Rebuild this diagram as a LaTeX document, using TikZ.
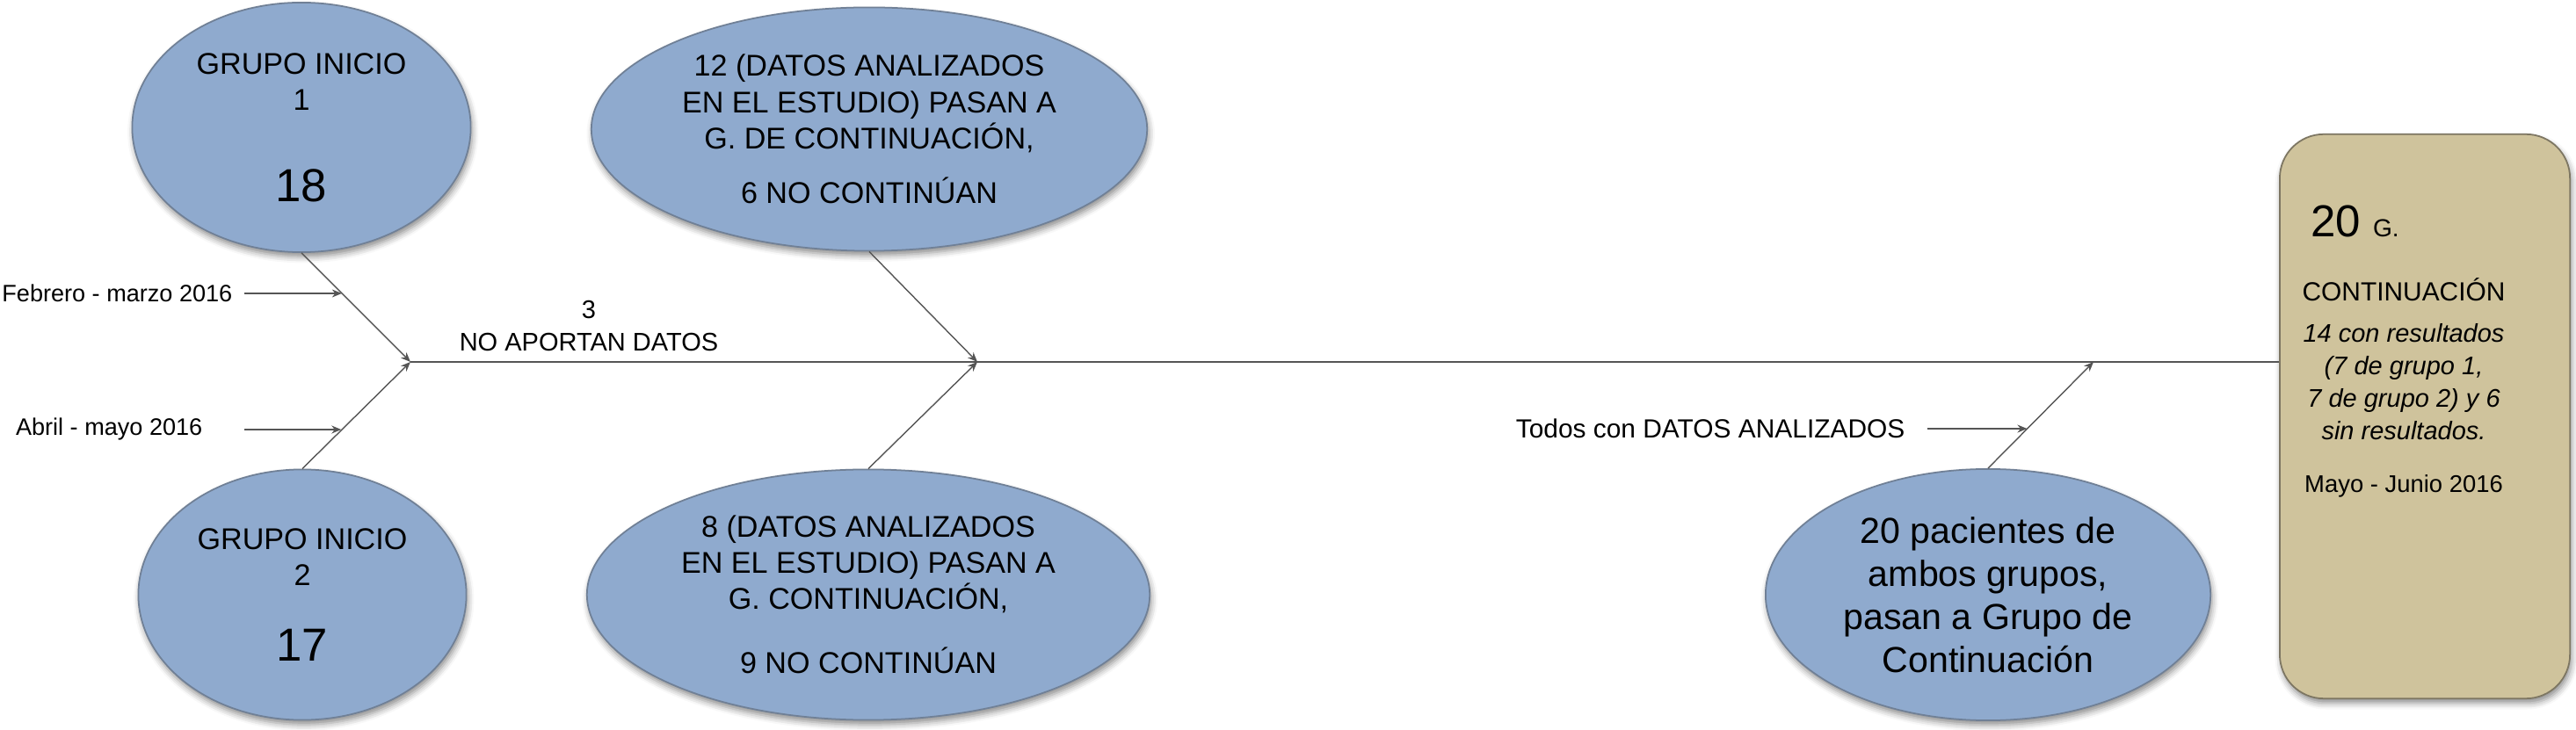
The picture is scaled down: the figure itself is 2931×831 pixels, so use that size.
\documentclass[tikz,border=0pt]{standalone}
\usepackage{fontspec}
\setmainfont{Liberation Sans}
\usetikzlibrary{positioning, arrows.meta, shapes.geometric, calc, shadows.blur}
\definecolor{blobfill}{RGB}{143,170,206}
\definecolor{blobline}{RGB}{112,128,150}
\definecolor{contfill}{RGB}{207,195,156}
\definecolor{contline}{RGB}{125,118,98}
\definecolor{wire}{RGB}{85,85,85}

\begin{document}
\begin{tikzpicture}[
        x=0.01cm, y=-0.01cm,
        blob/.style = {ellipse, draw=blobline, line width=0.5pt, fill=blobfill, align=center, inner sep=0pt,
            blur shadow={shadow xshift=0.5pt, shadow yshift=-1.5pt, shadow blur radius=2pt, shadow opacity=45},
            font=\fontsize{9.7}{11.7}\selectfont},
        contbox/.style = {draw=contline, line width=0.5pt, fill=contfill, rounded corners=0.5cm, inner sep=0pt,
            blur shadow={shadow xshift=0.5pt, shadow yshift=-1.5pt, shadow blur radius=2pt, shadow opacity=45}},
        lbl/.style = {inner sep=0pt, font=\fontsize{7.7}{9}\selectfont},
        spine/.style = {draw=wire, line width=0.6pt},
        arrow/.style = {-{Stealth[length=1.1mm, width=0.9mm]}, draw=wire, line width=0.4pt},
    ]
        \useasboundingbox (0,0) rectangle (2931,831);
        \node[blob, minimum width=3.85cm, minimum height=2.84cm] (g1) at (343,145)
            {GRUPO INICIO\\1\\[17.9pt]{\fontsize{15}{15}\selectfont 18}};
        \node[blob, minimum width=3.73cm, minimum height=2.85cm] (g2) at (344,677)
            {GRUPO INICIO\\2\\[12.5pt]{\fontsize{15}{15}\selectfont 17}};
        \node[blob, minimum width=6.32cm, minimum height=2.77cm] (pas12) at (989,147)
            {12 (DATOS ANALIZADOS\\EN EL ESTUDIO) PASAN A\\G. DE CONTINUACIÓN,\\[6pt]6 NO CONTINÚAN};
        \node[blob, minimum width=6.4cm, minimum height=2.85cm] (pas8) at (988,677)
            {8 (DATOS ANALIZADOS\\EN EL ESTUDIO) PASAN A\\G. CONTINUACIÓN,\\[9pt]9 NO CONTINÚAN};
        \node[blob, font=\fontsize{11.7}{13.9}\selectfont, minimum width=5.06cm, minimum height=2.86cm] (pac20) at (2262,677)
            {20 pacientes de\\ambos grupos,\\pasan a Grupo de\\Continuación};
        \node[contbox, minimum width=3.3cm, minimum height=6.42cm] (cont) at (2759,474) {};
        \node[align=center, inner sep=0pt, font=\fontsize{8.25}{10.5}\selectfont] (conttxt) at (2735,400)
            {{\fontsize{14.5}{14.5}\selectfont 20 }{\fontsize{8}{8}\selectfont G.}\hspace*{1.11cm}\\[10.3pt]
             {\fontsize{8.5}{8.5}\selectfont CONTINUACIÓN}\\[2.9pt]
             \textit{14 con resultados}\\\textit{(7 de grupo 1,}\\\textit{7 de grupo 2) y 6}\\\textit{sin resultados.}\\[6.6pt]
             {\fontsize{7.8}{7.8}\selectfont Mayo - Junio 2016}};
        \node[align=center, inner sep=0pt, font=\fontsize{8.25}{10.7}\selectfont] (noap) at (670,371) {3\\NO APORTAN DATOS};
        \coordinate (j1) at (467,412);
        \coordinate (j2) at (1112,412);
        \coordinate (j3) at (2382,412);
        \draw[spine] (j1) -- (j1 -| cont.west);
        \draw[arrow] (g1.south) -- (j1);
        \draw[arrow] (g2.north) -- (j1);
        \draw[arrow] (pas12.south) -- (j2);
        \draw[arrow] (pas8.north) -- (j2);
        \draw[arrow] (pac20.north) -- (j3);
        \coordinate (a1) at ($(g1.south)!0.37!(j1)$);
        \coordinate (a2) at ($(g2.north)!0.36!(j1)$);
        \coordinate (a3) at ($(pac20.north)!0.37!(j3)$);
        \node[lbl, anchor=east] (feb) at (265,334) {Febrero - marzo 2016};
        \node[lbl, anchor=east] (abr) at (231,489) {Abril - mayo 2016};
        \node[lbl, anchor=east, font=\fontsize{8.5}{10}\selectfont] (todos) at (2168,488) {Todos con DATOS ANALIZADOS};
        \draw[arrow, shorten <=0.13cm] (feb.east) -- (feb.east -| a1);
        \draw[arrow, shorten <=0.47cm] (abr.east) -- (abr.east -| a2);
        \draw[arrow, shorten <=0.25cm] (todos.east) -- (todos.east -| a3);
    \end{tikzpicture}
\end{document}
